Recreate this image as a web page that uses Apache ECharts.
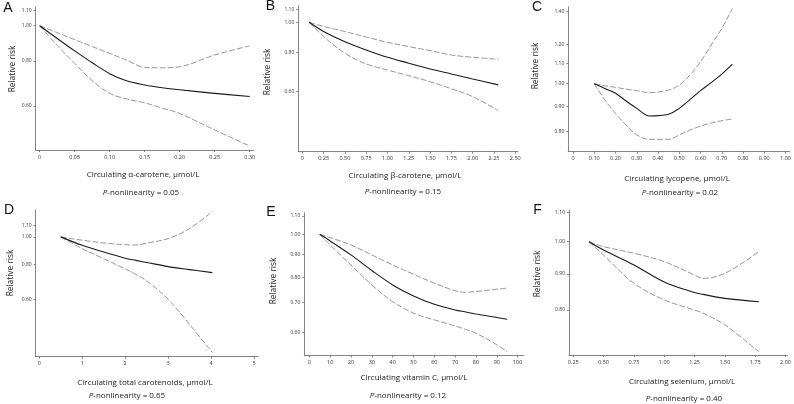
<!DOCTYPE html>
<html>
<head>
<meta charset="utf-8">
<script src="https://cdn.jsdelivr.net/npm/echarts@6/dist/echarts.min.js"></script>
<style>
html,body{margin:0;padding:0;background:#fff;}
#c{width:794px;height:404px;}
</style>
</head>
<body>
<div id="c"></div>
<script>
// ---------- Panel A: alpha-carotene ----------
const aX  = [0, 0.025, 0.05, 0.075, 0.10, 0.125, 0.15, 0.175, 0.20, 0.25, 0.30];
const aRR = [1.00, 0.922, 0.852, 0.790, 0.737, 0.703, 0.686, 0.674, 0.665, 0.650, 0.637];
const aHi = [1.00, 0.957, 0.915, 0.876, 0.838, 0.802, 0.767, 0.765, 0.770, 0.830, 0.880];
const aLo = [1.00, 0.882, 0.787, 0.705, 0.650, 0.627, 0.612, 0.592, 0.572, 0.515, 0.465];
const aXTicks = [0, 0.05, 0.10, 0.15, 0.20, 0.25, 0.30];
const aXLabels = ['0', '0.05', '0.10', '0.15', '0.20', '0.25', '0.30'];
const aYTicks = [0.60, 0.80, 1.00, 1.10];

// ---------- Panel B: beta-carotene ----------
const bX  = [0.08, 0.25, 0.50, 0.75, 1.00, 1.25, 1.50, 1.75, 2.00, 2.30];
const bRR = [1.00, 0.935, 0.867, 0.816, 0.773, 0.740, 0.709, 0.684, 0.659, 0.631];
const bHi = [1.00, 0.970, 0.934, 0.897, 0.863, 0.836, 0.812, 0.786, 0.773, 0.762];
const bLo = [1.00, 0.900, 0.796, 0.736, 0.704, 0.675, 0.646, 0.613, 0.579, 0.522];
const bXTicks = [0, 0.25, 0.50, 0.75, 1.00, 1.25, 1.50, 1.75, 2.00, 2.25, 2.50];
const bXLabels = ['0', '0.25', '0.50', '0.75', '1.00', '1.25', '1.50', '1.75', '2.00', '2.25', '2.50'];
const bYTicks = [0.60, 0.80, 1.00, 1.10];

// ---------- Panel C: lycopene ----------
const cX  = [0.10, 0.15, 0.20, 0.25, 0.30, 0.36, 0.45, 0.50, 0.55, 0.60, 0.65, 0.70, 0.75];
const cRR = [1.00, 0.978, 0.956, 0.922, 0.891, 0.860, 0.867, 0.891, 0.928, 0.968, 1.005, 1.046, 1.096];
const cHi = [1.00, 0.990, 0.983, 0.975, 0.968, 0.959, 0.971, 0.994, 1.041, 1.108, 1.198, 1.295, 1.422];
const cLo = [1.00, 0.927, 0.870, 0.824, 0.787, 0.771, 0.771, 0.787, 0.805, 0.820, 0.832, 0.841, 0.848];
const cXTicks = [0, 0.10, 0.20, 0.30, 0.40, 0.50, 0.60, 0.70, 0.80, 0.90, 1.00];
const cXLabels = ['0', '0.10', '0.20', '0.30', '0.40', '0.50', '0.60', '0.70', '0.80', '0.90', '1.00'];
const cYTicks = [0.80, 0.90, 1.00, 1.10, 1.20, 1.40];

// ---------- Panel D: total carotenoids ----------
const dX  = [0.5, 1.0, 1.5, 2.0, 2.25, 2.5, 3.0, 3.5, 4.03];
const dRR = [1.00, 0.933, 0.883, 0.840, 0.825, 0.811, 0.784, 0.765, 0.746];
const dHi = [1.00, 0.973, 0.951, 0.938, 0.935, 0.950, 0.986, 1.071, 1.230];
const dLo = [1.00, 0.908, 0.836, 0.769, 0.735, 0.698, 0.600, 0.488, 0.388];
const dXTicks = [0, 1, 2, 3, 4, 5];
const dXLabels = ['0', '1', '2', '3', '4', '5'];
const dYTicks = [0.60, 0.80, 1.00, 1.10];

// ---------- Panel E: vitamin C ----------
const eX  = [5, 10, 20, 30, 40, 50, 60, 70, 75, 80, 90, 95];
const eRR = [1.00, 0.966, 0.898, 0.828, 0.768, 0.725, 0.694, 0.674, 0.667, 0.660, 0.648, 0.642];
const eHi = [1.00, 0.983, 0.946, 0.898, 0.852, 0.812, 0.775, 0.745, 0.739, 0.742, 0.751, 0.755];
const eLo = [1.00, 0.946, 0.852, 0.768, 0.704, 0.663, 0.640, 0.620, 0.609, 0.597, 0.562, 0.542];
const eXTicks = [0, 10, 20, 30, 40, 50, 60, 70, 80, 90, 100];
const eXLabels = ['0', '10', '20', '30', '40', '50', '60', '70', '80', '90', '100'];
const eYTicks = [0.60, 0.70, 0.80, 0.90, 1.00, 1.10];

// ---------- Panel F: selenium ----------
const fX  = [0.38, 0.50, 0.75, 1.00, 1.25, 1.32, 1.50, 1.78];
const fRR = [1.00, 0.973, 0.927, 0.877, 0.847, 0.842, 0.831, 0.822];
const fHi = [1.00, 0.984, 0.963, 0.937, 0.897, 0.887, 0.902, 0.968];
const fLo = [1.00, 0.957, 0.873, 0.827, 0.800, 0.792, 0.762, 0.698];
const fXTicks = [0.25, 0.50, 0.75, 1.00, 1.25, 1.50, 1.75, 2.00];
const fXLabels = ['0.25', '0.50', '0.75', '1.00', '1.25', '1.50', '1.75', '2.00'];
const fYTicks = [0.80, 0.90, 1.00, 1.10];

const letters = ['A', 'B', 'C', 'D', 'E', 'F'];
const xTitles = [
  'Circulating α-carotene, μmol/L',
  'Circulating β-carotene, μmol/L',
  'Circulating lycopene, μmol/L',
  'Circulating total carotenoids, μmol/L',
  'Circulating vitamin C, μmol/L',
  'Circulating selenium, μmol/L'
];
const pValues = ['0.05', '0.15', '0.02', '0.65', '0.12', '0.40'];
const yTitle = 'Relative risk';

const panels = [
  {x: aX, rr: aRR, hi: aHi, lo: aLo, xt: aXTicks, xl: aXLabels, yt: aYTicks},
  {x: bX, rr: bRR, hi: bHi, lo: bLo, xt: bXTicks, xl: bXLabels, yt: bYTicks},
  {x: cX, rr: cRR, hi: cHi, lo: cLo, xt: cXTicks, xl: cXLabels, yt: cYTicks},
  {x: dX, rr: dRR, hi: dHi, lo: dLo, xt: dXTicks, xl: dXLabels, yt: dYTicks},
  {x: eX, rr: eRR, hi: eHi, lo: eLo, xt: eXTicks, xl: eXLabels, yt: eYTicks},
  {x: fX, rr: fRR, hi: fHi, lo: fLo, xt: fXTicks, xl: fXLabels, yt: fYTicks}
];

// layout (pixels) and axis extents (x in data units, y in log units)
const layout = [
  {left: 35.7,  top: 7,     width: 217.6, height: 143,   xmin: -0.0057, xmax: 0.3051, ymin: -0.791, ymax: 0.119},
  {left: 298.3, top: 5.7,   width: 219.7, height: 146,   xmin: -0.047,  xmax: 2.532,  ymin: -0.952, ymax: 0.122},
  {left: 568.3, top: 6.7,   width: 222.4, height: 145,   xmin: -0.022,  xmax: 1.019,  ymin: -0.318, ymax: 0.360},
  {left: 35.7,  top: 210,   width: 222.6, height: 146.7, xmin: -0.084,  xmax: 5.10,   ymin: -0.981, ymax: 0.220},
  {left: 304.3, top: 212.7, width: 219,   height: 142.6, xmin: -2.4,    xmax: 102.7,  ymin: -0.631, ymax: 0.1126},
  {left: 569,   top: 210,   width: 221.7, height: 145,   xmin: 0.215,   xmax: 2.015,  ymin: -0.370, ymax: 0.1035}
];
const textPos = [
  {letter: [8, 8],     yname: [13, 69],    title: [143, 175],   p: [141, 192.5]},
  {letter: [270.5, 6.5], yname: [268, 72], title: [405, 176],   p: [403, 191.5]},
  {letter: [537, 7.5], yname: [536, 66],   title: [677, 179],   p: [680, 192.5]},
  {letter: [9, 210],   yname: [10.5, 273], title: [145, 382.5], p: [127, 395.5]},
  {letter: [271, 212], yname: [273.5, 281], title: [414, 378],  p: [408, 396]},
  {letter: [537.5, 210], yname: [537.5, 274], title: [682, 382], p: [684, 399]}
];

const FONT = '"Open Sans", "DejaVu Sans", sans-serif';
const grids = [], xAxes = [], yAxes = [], series = [], graphics = [];

panels.forEach((p, i) => {
  const L = layout[i];
  grids.push({left: L.left, top: L.top, width: L.width, height: L.height, containLabel: false});
  xAxes.push({
    type: 'value', gridIndex: i, min: L.xmin, max: L.xmax,
    axisLine: {show: true, onZero: false, lineStyle: {color: '#666', width: 0.8}},
    axisTick: {show: true, length: 2, customValues: p.xt, lineStyle: {color: '#666', width: 0.8}},
    axisLabel: {
      show: true, customValues: p.xt, margin: 4, fontSize: 5.5, color: '#333', fontFamily: FONT,
      formatter: (v) => { const k = p.xt.findIndex(t => Math.abs(t - v) < 1e-9); return k >= 0 ? p.xl[k] : ''; }
    },
    splitLine: {show: false}
  });
  const yLog = p.yt.map(v => Math.log(v));
  yAxes.push({
    type: 'value', gridIndex: i, min: L.ymin, max: L.ymax,
    axisLine: {show: true, onZero: false, lineStyle: {color: '#666', width: 0.8}},
    axisTick: {show: true, length: 2, customValues: yLog, lineStyle: {color: '#666', width: 0.8}},
    axisLabel: {
      show: true, customValues: yLog, margin: 4, fontSize: 5, color: '#333', fontFamily: FONT,
      formatter: (v) => Math.exp(v).toFixed(2)
    },
    splitLine: {show: false}
  });
  const mk = (arr) => p.x.map((xv, k) => [xv, Math.log(arr[k])]);
  const base = {type: 'line', xAxisIndex: i, yAxisIndex: i, showSymbol: false, symbol: 'none', smooth: 0.35, silent: true, animation: false};
  series.push(Object.assign({}, base, {data: mk(p.hi), lineStyle: {color: '#8c8c8c', width: 0.9, type: [6, 2]}}));
  series.push(Object.assign({}, base, {data: mk(p.lo), lineStyle: {color: '#8c8c8c', width: 0.9, type: [6, 2]}}));
  series.push(Object.assign({}, base, {data: mk(p.rr), lineStyle: {color: '#1a1a1a', width: 1.1}}));

  const T = textPos[i];
  graphics.push({type: 'text', x: T.letter[0], y: T.letter[1], style: {text: letters[i], font: '14px "Liberation Sans", Arial, sans-serif', fill: '#111', align: 'center', verticalAlign: 'middle'}});
  graphics.push({type: 'text', x: T.yname[0], y: T.yname[1], rotation: Math.PI / 2, style: {text: yTitle, font: '8.4px ' + FONT, fill: '#222', align: 'center', verticalAlign: 'middle'}});
  graphics.push({type: 'text', x: T.title[0], y: T.title[1], style: {text: xTitles[i], font: '8px ' + FONT, fill: '#222', align: 'center', verticalAlign: 'middle'}});
  graphics.push({type: 'text', x: T.p[0], y: T.p[1], style: {
    text: '{i|P}-nonlinearity = ' + pValues[i], font: '8px ' + FONT, fill: '#222', align: 'center', verticalAlign: 'middle',
    rich: {i: {fontStyle: 'italic', fontSize: 8, fontFamily: FONT, fill: '#222'}}
  }});
});

const chart = echarts.init(document.getElementById('c'), null, {renderer: 'canvas'});
chart.setOption({
  animation: false,
  backgroundColor: '#fff',
  grid: grids, xAxis: xAxes, yAxis: yAxes, series: series,
  graphic: graphics
});
</script>
</body>
</html>
